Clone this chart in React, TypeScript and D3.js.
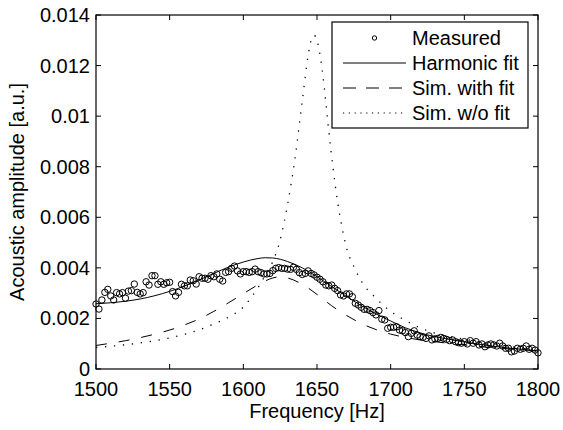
import React from "react";
import * as d3 from "d3";

const W = 563;
const H = 430;

// Measured data: sampled every 2 Hz starting at 1500 Hz
const MEAS_F0 = 1500;
const MEAS_STEP = 2;
const measured = [
  0.00257, 0.00237, 0.00273, 0.00303, 0.00315, 0.00289, 0.00273, 0.00302, 0.00297, 0.00302,
  0.0028, 0.00308, 0.0031, 0.00336, 0.00303, 0.00297, 0.00302, 0.00345, 0.00332, 0.00369,
  0.00369, 0.00335, 0.00345, 0.00335, 0.00341, 0.00343, 0.00306, 0.00289, 0.00303, 0.00335,
  0.00329, 0.00329, 0.00352, 0.00349, 0.00336, 0.00365, 0.00359, 0.00359, 0.00355, 0.00369,
  0.00365, 0.00376, 0.00355, 0.00348, 0.00382, 0.00385, 0.00398, 0.00407, 0.00388,
  0.00376, 0.00385, 0.00385, 0.00382, 0.00385, 0.00395, 0.00385, 0.00381, 0.00376, 0.00376,
  0.00378, 0.00389, 0.00398, 0.00401, 0.00398, 0.00398, 0.00395, 0.00394, 0.00402, 0.00394,
  0.00381, 0.00374, 0.00378, 0.00388, 0.00378,
  0.00372, 0.00363, 0.00355, 0.00345, 0.00332, 0.00329, 0.00332, 0.00319, 0.0031, 0.00293,
  0.00289, 0.00297, 0.00297, 0.00286, 0.0026, 0.00253, 0.00244, 0.00236, 0.00236, 0.00231,
  0.00223, 0.00214, 0.00231, 0.00197, 0.00194, 0.00161, 0.00165, 0.00165, 0.00167, 0.00154,
  0.00151, 0.00144, 0.00128, 0.00141, 0.00151, 0.00134, 0.00128, 0.00125, 0.00121, 0.00131,
  0.00115, 0.00119, 0.00121, 0.00125, 0.00121, 0.00117, 0.00112, 0.00115, 0.00108, 0.00104,
  0.00102, 0.00108, 0.00099, 0.00112, 0.00102, 0.00108, 0.00095, 0.00099, 0.00088, 0.00095,
  0.00099, 0.00095, 0.00091, 0.00102, 0.00091, 0.00082, 0.00082, 0.00068, 0.00071, 0.00082,
  0.00078, 0.00082, 0.00091, 0.00078, 0.00082, 0.00075, 0.00064,
];

const harmonicFreq = [
  1500, 1510, 1520, 1530, 1540, 1550, 1560, 1570, 1580, 1590, 1600, 1610, 1615, 1620, 1625,
  1630, 1640, 1650, 1660, 1670, 1680, 1690, 1700, 1710, 1720, 1730, 1740, 1750, 1760, 1770,
  1780, 1790, 1800,
];
const harmonicFit = [
  0.00258, 0.00262, 0.00268, 0.00277, 0.0029, 0.00307, 0.00328, 0.00352, 0.00378, 0.00403,
  0.00423, 0.00437, 0.0044, 0.00439, 0.00434, 0.00425, 0.004, 0.00365, 0.00326, 0.00287,
  0.00251, 0.00218, 0.0019, 0.00163, 0.00143, 0.00128, 0.00117, 0.00107, 0.00098, 0.0009,
  0.00083, 0.00077, 0.00071,
];

const simWithFreq = [
  1500, 1510, 1520, 1530, 1540, 1550, 1560, 1570, 1580, 1590, 1600, 1610, 1620, 1625, 1630,
  1640, 1650, 1660, 1670, 1680, 1690, 1700, 1710, 1720, 1730, 1740, 1750, 1760, 1770, 1780,
  1790, 1800,
];
const simWithFit = [
  0.00093, 0.00102, 0.00112, 0.00124, 0.00138, 0.00154, 0.00174, 0.00198, 0.00228, 0.00262,
  0.00298, 0.00333, 0.0036, 0.00365, 0.0036, 0.00335, 0.00295, 0.0025, 0.00212, 0.0018,
  0.00156, 0.00138, 0.00125, 0.00115, 0.00108, 0.00101, 0.00095, 0.00089, 0.00084, 0.0008,
  0.00076, 0.00072,
];

const simWoFreq = [
  1500, 1510, 1520, 1530, 1540, 1550, 1560, 1570, 1580, 1590, 1600, 1605, 1610, 1615, 1620,
  1625, 1630, 1635, 1640, 1644, 1646, 1648, 1650, 1652, 1655, 1658, 1661, 1664, 1667, 1670,
  1675, 1680, 1690, 1700, 1710, 1720, 1730, 1740, 1750, 1760, 1770, 1780, 1790, 1800,
];
const simWoFit = [
  0.00085, 0.0009, 0.00096, 0.00103, 0.00112, 0.00123, 0.00137, 0.00155, 0.00178, 0.00205,
  0.00245, 0.0028, 0.00322, 0.00372, 0.00425, 0.0051, 0.0065, 0.0083, 0.0106, 0.0124,
  0.013, 0.0132, 0.013, 0.01245, 0.0111, 0.0094, 0.0079, 0.0066, 0.0056, 0.0048,
  0.00405, 0.00348, 0.0028, 0.00228, 0.00192, 0.00163, 0.00142, 0.00128, 0.00118, 0.00108,
  0.00099, 0.0009, 0.00082, 0.00075,
];

const xTicks = [1500, 1550, 1600, 1650, 1700, 1750, 1800];
const yTicks = [0, 0.002, 0.004, 0.006, 0.008, 0.01, 0.012, 0.014];
const yTickLabels = ["0", "0.002", "0.004", "0.006", "0.008", "0.01", "0.012", "0.014"];

const legendLabels = ["Measured", "Harmonic fit", "Sim. with fit", "Sim. w/o fit"];

const FONT = "'Liberation Sans', Arial, Helvetica, sans-serif";

export default function App() {
  const left = 96, right = 538, top = 15, bottom = 369;
  const x = d3.scaleLinear().domain([1500, 1800]).range([left, right]);
  const y = d3.scaleLinear().domain([0, 0.014]).range([bottom, top]);

  const line = d3
    .line<[number, number]>()
    .x((d) => x(d[0]))
    .y((d) => y(d[1]))
    .curve(d3.curveMonotoneX);

  const harmonicPath = line(harmonicFreq.map((f, i) => [f, harmonicFit[i]]))!;
  const withPath = line(simWithFreq.map((f, i) => [f, simWithFit[i]]))!;
  const woPath = line(simWoFreq.map((f, i) => [f, simWoFit[i]]))!;

  const tickLen = 5;

  // legend layout
  const lgX0 = 332, lgX1 = 528, lgY0 = 22, rowH = 25;
  const lgRow0 = 38;
  const symX0 = 343, symX1 = 406, textX = 412;
  const lgY1 = lgY0 + rowH * 4 + 6;

  return (
    <svg
      width={W}
      height={H}
      style={{ position: "absolute", left: 0, top: 0, background: "#fff" }}
      fontFamily={FONT}
    >
      <rect x={0} y={0} width={W} height={H} fill="#fff" />

      {/* curves */}
      <path d={harmonicPath} fill="none" stroke="#000" strokeWidth={1} />
      <path d={withPath} fill="none" stroke="#000" strokeWidth={1} strokeDasharray="11 12" />
      <path d={woPath} fill="none" stroke="#000" strokeWidth={1.3} strokeDasharray="1.3 7.7" />

      {/* measured */}
      {measured.map((v, i) => (
        <circle
          key={i}
          cx={x(MEAS_F0 + i * MEAS_STEP)}
          cy={y(v)}
          r={3.2}
          fill="none"
          stroke="#000"
          strokeWidth={1}
        />
      ))}

      {/* axes frame */}
      <rect x={left} y={top} width={right - left} height={bottom - top} fill="none" stroke="#000" strokeWidth={1.2} />

      {/* x ticks */}
      {xTicks.map((t) => (
        <g key={"x" + t}>
          <line x1={x(t)} x2={x(t)} y1={bottom} y2={bottom - tickLen} stroke="#000" strokeWidth={1} />
          <line x1={x(t)} x2={x(t)} y1={top} y2={top + tickLen} stroke="#000" strokeWidth={1} />
          <text x={x(t)} y={396} textAnchor="middle" fontSize={20} fill="#000">
            {t}
          </text>
        </g>
      ))}

      {/* y ticks */}
      {yTicks.map((t, i) => (
        <g key={"y" + t}>
          <line x1={left} x2={left + tickLen} y1={y(t)} y2={y(t)} stroke="#000" strokeWidth={1} />
          <line x1={right} x2={right - tickLen} y1={y(t)} y2={y(t)} stroke="#000" strokeWidth={1} />
          <text x={90} y={y(t) + 7} textAnchor="end" fontSize={20} fill="#000">
            {yTickLabels[i]}
          </text>
        </g>
      ))}

      {/* axis labels */}
      <text x={(left + right) / 2} y={418} textAnchor="middle" fontSize={20} fill="#000">
        Frequency [Hz]
      </text>
      <text
        transform={`translate(24, ${(top + bottom) / 2}) rotate(-90)`}
        textAnchor="middle"
        fontSize={20}
        fill="#000"
      >
        Acoustic amplitude [a.u.]
      </text>

      {/* legend */}
      <rect x={lgX0} y={lgY0} width={lgX1 - lgX0} height={lgY1 - lgY0} fill="#fff" stroke="#000" strokeWidth={1.2} />
      {legendLabels.map((lab, i) => {
        const cy = lgRow0 + i * rowH;
        return (
          <g key={lab}>
            {i === 0 && (
              <circle cx={(symX0 + symX1) / 2} cy={cy} r={2.2} fill="none" stroke="#000" strokeWidth={1} />
            )}
            {i === 1 && <line x1={symX0} x2={symX1} y1={cy} y2={cy} stroke="#000" strokeWidth={1} />}
            {i === 2 && (
              <line x1={symX0} x2={symX1} y1={cy} y2={cy} stroke="#000" strokeWidth={1} strokeDasharray="13 10" />
            )}
            {i === 3 && (
              <line x1={symX0} x2={symX1} y1={cy} y2={cy} stroke="#000" strokeWidth={1.2} strokeDasharray="1.2 4.6" />
            )}
            <text x={textX} y={cy + 7} fontSize={20} fill="#000">
              {lab}
            </text>
          </g>
        );
      })}
    </svg>
  );
}
